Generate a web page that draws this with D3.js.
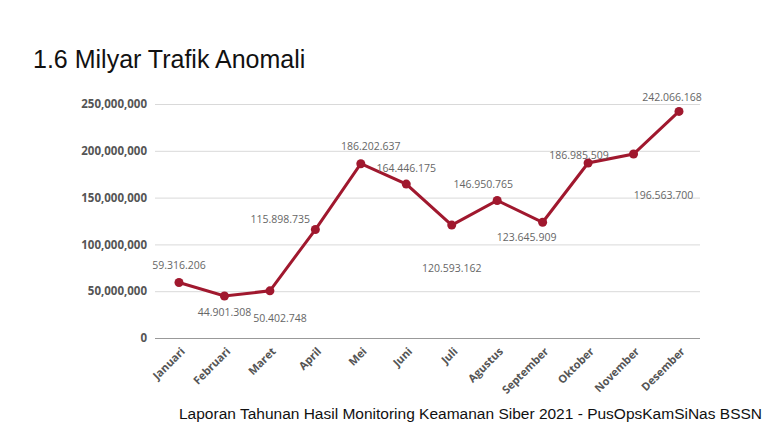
<!DOCTYPE html>
<html><head><meta charset="utf-8">
<script src="https://cdn.jsdelivr.net/npm/d3@7"></script>
<style>body{margin:0;background:#fff}svg{display:block}</style>
</head><body>
<svg id="c" width="770" height="427"></svg>
<script>
var months = ["Januari","Februari","Maret","April","Mei","Juni","Juli","Agustus","September","Oktober","November","Desember"];
var values = [59316206,44901308,50402748,115898735,186202637,164446175,120593162,146950765,123645909,186985509,196563700,242066168];
// label offsets from the point (px)
var labelDx = [0,0,10,-35,10,0,0,-14,-16,-9,30,-7];
var labelDy = [-17,16,28,-10,-17,-16,43,-16,15,-8,41,-14];
var yTicks = [0,50000000,100000000,150000000,200000000,250000000];

var svg = d3.select("#c");
var x = d3.scalePoint().domain(months).range([179,679]);
var y = d3.scaleLinear().domain([0,250000000]).range([338,104]);

svg.append("text").attr("x",33).attr("y",68)
  .style("font-family","Liberation Sans, Arial").style("font-size","25px").attr("fill","#111")
  .text("1.6 Milyar Trafik Anomali");

var gy = svg.append("g").attr("transform","translate(155,0)")
  .call(d3.axisLeft(y).tickValues(yTicks).tickSize(-545).tickFormat(d3.format(",")));
gy.select(".domain").remove();
gy.selectAll(".tick line").attr("stroke","#d9d9d9");
gy.selectAll(".tick text").attr("x",-8).attr("fill","#555")
  .style("font-family","Open Sans, sans-serif").style("font-size","11.5px").style("font-weight","bold");
gy.selectAll(".tick").filter(function(d){return d===0;}).select("line").attr("stroke","#999");

var gx = svg.append("g").attr("transform","translate(0,338)")
  .call(d3.axisBottom(x).tickSize(0));
gx.select(".domain").remove();
gx.selectAll(".tick text").attr("fill","#555")
  .style("font-family","Open Sans, sans-serif").style("font-size","11px").style("font-weight","bold")
  .attr("text-anchor","end").attr("dy",0).attr("dx",0)
  .attr("transform","translate(4,12) rotate(-45)");

var line = d3.line().x(function(d,i){return x(months[i]);}).y(function(d){return y(d);});
svg.append("path").datum(values).attr("d",line).attr("fill","none")
  .attr("stroke","#a0182e").attr("stroke-width",3);

svg.selectAll("circle.pt").data(values).enter().append("circle").attr("class","pt")
  .attr("cx",function(d,i){return x(months[i]);}).attr("cy",function(d){return y(d);})
  .attr("r",4.5).attr("fill","#a0182e");

svg.selectAll("text.lbl").data(values).enter().append("text").attr("class","lbl")
  .attr("x",function(d,i){return x(months[i]) + labelDx[i];})
  .attr("y",function(d,i){return y(d) + labelDy[i];})
  .attr("dy","0.35em")
  .attr("text-anchor","middle").attr("fill","#666")
  .style("font-family","Open Sans, sans-serif").style("font-size","10.5px")
  .text(function(d){return d3.format(",")(d).replace(/,/g,".");});

svg.append("text").attr("x",762).attr("y",419).attr("text-anchor","end")
  .style("font-family","Liberation Sans, Arial").style("font-size","15.5px").attr("fill","#111")
  .text("Laporan Tahunan Hasil Monitoring Keamanan Siber 2021 - PusOpsKamSiNas BSSN");
</script>
</body></html>
